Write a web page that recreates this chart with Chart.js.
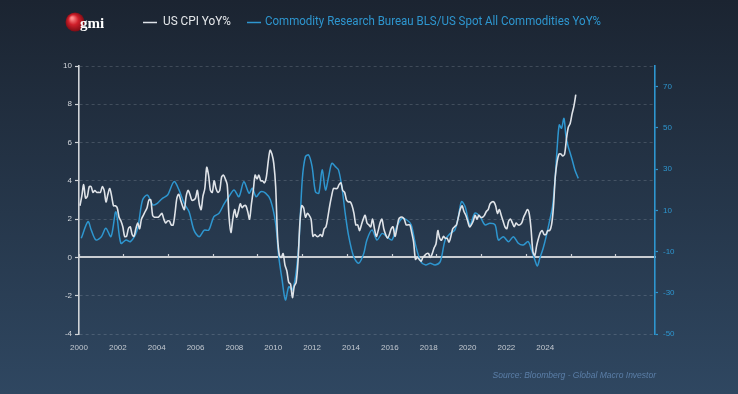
<!DOCTYPE html>
<html><head><meta charset="utf-8">
<script src="https://cdn.jsdelivr.net/npm/chart.js@4.4.1/dist/chart.umd.min.js"></script>
<style>html,body{margin:0;padding:0;background:#1b2532;overflow:hidden}</style>
</head><body>
<canvas id="c" width="738" height="394" style="display:block;width:738px;height:394px"></canvas>
<script>
// ---- data ----
const seriesLabels = ['US CPI YoY%', 'Commodity Research Bureau BLS/US Spot All Commodities YoY%'];
const cpiStartYear = 2000; // monthly, from Jan 2000
const cpiValues = [
  2.7,3.2,3.8,3.1,3.2,3.7,3.7,3.4,3.5,3.4,3.4,3.4,
  3.7,3.5,2.9,3.3,3.6,3.2,2.7,2.7,2.6,2.1,1.9,1.6,
  1.1,1.1,1.5,1.6,1.2,1.1,1.5,1.8,1.5,2.0,2.2,2.4,
  2.6,3.0,3.0,2.2,2.1,2.1,2.1,2.2,2.3,2.0,1.8,1.9,
  1.9,1.7,1.7,2.3,3.1,3.3,3.0,2.7,2.5,3.2,3.5,3.3,
  3.0,3.0,3.1,3.5,2.8,2.5,3.2,3.6,4.7,4.3,3.5,3.4,
  4.0,3.6,3.4,3.5,4.2,4.3,4.1,3.8,2.1,1.3,2.0,2.5,
  2.1,2.4,2.8,2.6,2.7,2.7,2.4,2.0,2.8,3.5,4.3,4.1,
  4.3,4.0,4.0,3.9,4.2,5.0,5.6,5.4,4.9,3.7,1.1,0.1,
  0.0,0.2,-0.4,-0.7,-1.3,-1.4,-2.1,-1.5,-1.3,-0.2,1.8,2.7,
  2.6,2.1,2.3,2.2,2.0,1.1,1.2,1.1,1.1,1.2,1.1,1.5,
  1.6,2.1,2.7,3.2,3.6,3.6,3.6,3.8,3.9,3.5,3.4,3.0,
  2.9,2.9,2.7,2.3,1.7,1.7,1.4,1.7,2.0,2.2,1.8,1.7,
  1.6,2.0,1.5,1.1,1.4,1.8,2.0,1.5,1.2,1.0,1.2,1.5,
  1.6,1.1,1.5,2.0,2.1,2.1,2.0,1.7,1.7,1.7,1.3,0.8,
  -0.1,0.0,-0.1,-0.2,0.0,0.1,0.2,0.2,0.0,0.2,0.5,0.7,
  1.4,1.0,0.9,1.1,1.0,1.0,0.8,1.1,1.5,1.6,1.7,2.1,
  2.5,2.7,2.4,2.2,1.9,1.6,1.7,1.9,2.2,2.0,2.2,2.1,
  2.1,2.2,2.4,2.5,2.8,2.9,2.9,2.7,2.3,2.5,2.2,1.9,
  1.6,1.5,1.9,2.0,1.8,1.6,1.8,1.7,1.7,1.8,2.1,2.3,
  2.5,2.3,1.5,0.3,0.1,0.6,1.0,1.3,1.4,1.2,1.2,1.4,
  1.4,1.7,2.6,4.2,5.0,5.4,5.4,5.3,5.4,6.2,6.8,7.0,
  7.5,7.9,8.5
];
const crbDates = [
  2000.10,2000.40,2000.55,2000.76,2001.00,2001.20,2001.43,2001.65,2001.87,2002.10,
  2002.30,2002.60,2002.84,2003.06,2003.30,2003.50,2003.73,2003.96,2004.25,2004.47,
  2004.70,2004.92,2005.14,2005.37,2005.60,2005.80,2006.03,2006.26,2006.50,2006.70,
  2006.93,2007.15,2007.37,2007.60,2007.75,2007.92,2008.12,2008.34,2008.56,2008.79,
  2008.93,2009.08,2009.23,2009.38,2009.53,2009.68,2009.83,2009.98,2010.12,2010.27,
  2010.42,2010.57,2010.72,2010.87,2011.02,2011.16,2011.30,2011.46,2011.60,2011.76,
  2011.90,2012.06,2012.28,2012.50,2012.73,2012.87,2013.10,2013.32,2013.55,2013.77,
  2013.99,2014.20,2014.44,2014.66,2014.85,2015.05,2015.28,2015.50,2015.70,2015.92,
  2016.15,2016.37,2016.60,2016.80,2016.96,2017.10,2017.26,2017.48,2017.70,2017.93,
  2018.15,2018.37,2018.60,2018.75,2018.97,2019.20,2019.42,2019.64,2019.86,2020.08,
  2020.23,2020.38,2020.49,2020.60,2020.75,2020.90,2021.05,2021.17,2021.28,2021.38,
  2021.47,2021.57,2021.68,2021.77,2021.87,2021.94,2022.05,2022.17,2022.32
];
const crbValues = [
  -3.6,4.5,0.4,-4.4,-2.8,1.3,-2.8,9.3,-6.0,-4.4,
  -5.2,0.4,15.0,17.4,12.6,13.4,15.8,17.4,23.9,19.9,
  13.4,9.3,0.4,-2.8,0.4,0.4,6.9,8.6,13.4,16.6,
  19.9,16.6,23.9,18.3,20.7,16.6,19.0,18.3,15.0,3.7,
  -12.5,-23.8,-33.5,-27.1,-28.7,-22.2,-6.0,24.7,36.0,36.8,
  31.2,19.0,18.3,29.6,19.9,26.3,32.8,31.2,29.6,20.7,
  8.6,-2.8,-12.5,-15.7,-10.9,-4.4,0.4,-4.4,-1.2,-2.8,
  -4.4,2.0,6.1,5.3,3.0,-7.0,-14.9,-16.5,-15.7,-16.5,
  -14.9,-4.4,-1.2,0.4,6.9,14.2,11.8,2.9,8.6,6.9,
  2.9,3.7,2.9,-4.4,-2.8,-5.2,-2.8,-6.0,-6.8,-5.2,
  -9.3,-14.1,-17.0,-13.3,-8.4,-2.0,5.5,11.8,24.7,40.9,
  51.4,49.8,54.6,45.7,40.9,38.4,34.4,29.6,25.5
];
const xTickYears = [2000,2002,2004,2006,2008,2010,2012,2014,2016,2018,2020,2022,2024];
const leftTicks = [-4,-2,0,2,4,6,8,10];
const rightTicks = [-50,-30,-10,10,30,50,70];
const sourceText = 'Source: Bloomberg - Global Macro Investor';

// ---- styles ----
const WHITE = '#dfe3e8';
const BLUE = '#2e96cf';
const AXIS_FONT = {family: '"Liberation Sans", Arial, sans-serif', size: 8};

const decor = {
  id: 'decor',
  beforeDraw(chart) {
    const {ctx, width, height} = chart;
    const g = ctx.createLinearGradient(0, 0, 0, height);
    g.addColorStop(0, '#1b2431');
    g.addColorStop(1, '#2f4761');
    ctx.save();
    ctx.fillStyle = g;
    ctx.fillRect(0, 0, width, height);
    ctx.restore();
  },
  afterDraw(chart) {
    const {ctx} = chart;
    ctx.save();
    // logo
    const rg = ctx.createRadialGradient(72, 18, 1, 75, 22, 10);
    rg.addColorStop(0, '#ff8a8a');
    rg.addColorStop(0.45, '#cf1f2a');
    rg.addColorStop(1, '#760b13');
    ctx.fillStyle = rg;
    ctx.beginPath(); ctx.arc(75, 22, 9.5, 0, Math.PI * 2); ctx.fill();
    ctx.fillStyle = '#ffffff';
    ctx.font = 'bold 15px "Liberation Serif", "DejaVu Serif", serif';
    ctx.textBaseline = 'alphabetic';
    ctx.textAlign = 'left';
    ctx.fillText('gmi', 80, 28, 28);
    // legend
    const ds = chart.data.datasets;
    const items = [{x: 143, tx: 163, w: 68}, {x: 247, tx: 265, w: 336}];
    ctx.font = '13px "Liberation Sans Narrow", Roboto, "Liberation Sans", sans-serif';
    ctx.textBaseline = 'middle';
    items.forEach((it, i) => {
      ctx.strokeStyle = ds[i].borderColor;
      ctx.lineWidth = 1.5;
      ctx.beginPath(); ctx.moveTo(it.x, 22.5); ctx.lineTo(it.x + 14, 22.5); ctx.stroke();
      ctx.fillStyle = i === 0 ? '#e4e7ea' : BLUE;
      ctx.fillText(ds[i].label, it.tx, 22, it.w);
    });
    // source
    ctx.font = 'italic 8.5px "Liberation Sans", Arial, sans-serif';
    ctx.fillStyle = '#5b7fa8';
    ctx.textAlign = 'right';
    ctx.fillText(sourceText, 656, 376);
    ctx.restore();
  }
};

new Chart(document.getElementById('c'), {
  type: 'line',
  data: {
    datasets: [
      {
        label: seriesLabels[0],
        data: cpiValues.map((v, i) => ({x: cpiStartYear + (i + 0.5) / 12, y: v})),
        xAxisID: 'x', yAxisID: 'y',
        borderColor: WHITE, borderWidth: 1.6, pointRadius: 0, tension: 0.3
      },
      {
        label: seriesLabels[1],
        data: crbDates.map((d, i) => ({x: d, y: crbValues[i]})),
        xAxisID: 'x', yAxisID: 'y2',
        borderColor: BLUE, borderWidth: 1.5, pointRadius: 0, tension: 0.3
      }
    ]
  },
  options: {
    responsive: false,
    animation: false,
    devicePixelRatio: 1,
    layout: {padding: {left: 0, right: 0, top: 66, bottom: 40}},
    plugins: {legend: {display: false}, tooltip: {enabled: false}},
    scales: {
      x: {
        type: 'linear', min: 2000, max: 2025.75,
        position: {y: 0},
        afterBuildTicks: s => { s.ticks = xTickYears.map(v => ({value: v})); },
        ticks: {display: false},
        grid: {drawOnChartArea: false, drawTicks: true, tickLength: -4, tickColor: '#c9cdd2', tickWidth: 1.2},
        border: {color: '#c9cdd2', width: 2}
      },
      xl: {
        type: 'linear', min: 2000, max: 2029.65,
        position: 'bottom',
        afterBuildTicks: s => { s.ticks = xTickYears.map(v => ({value: v})); },
        afterFit: s => { s.height = 20; },
        ticks: {color: '#c3c9d0', font: AXIS_FONT, padding: 9, maxRotation: 0, autoSkip: false, callback: v => String(v)},
        grid: {display: false, drawTicks: false},
        border: {display: false}
      },
      y: {
        type: 'linear', min: -4, max: 10, position: 'left',
        afterBuildTicks: s => { s.ticks = leftTicks.map(v => ({value: v})); },
        afterFit: s => { s.width = 79; },
        ticks: {color: '#d3d7dc', font: AXIS_FONT, padding: 3, callback: v => String(v)},
        grid: {color: 'rgba(200,210,220,0.2)', lineWidth: 1, tickColor: '#d0d4d8', tickLength: 4, tickWidth: 1.2},
        border: {color: '#d0d4d8', width: 1.6, dash: [3, 3]}
      },
      y2: {
        type: 'linear', min: -50, max: 80, position: 'right',
        afterBuildTicks: s => { s.ticks = rightTicks.map(v => ({value: v})); },
        afterFit: s => { s.width = 83; },
        ticks: {color: BLUE, font: AXIS_FONT, padding: 5, callback: v => String(v)},
        grid: {drawOnChartArea: false, tickColor: BLUE, tickLength: 3, tickWidth: 1.2},
        border: {color: BLUE, width: 1.6}
      }
    }
  },
  plugins: [decor]
});
</script>
</body></html>
